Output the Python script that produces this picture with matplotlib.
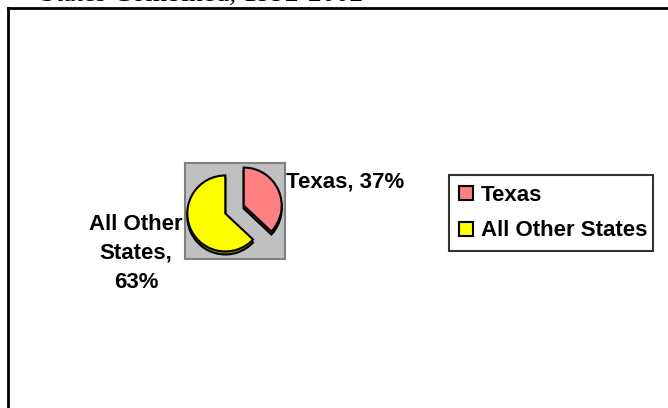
import matplotlib
matplotlib.use("Agg")
import matplotlib.pyplot as plt
from matplotlib.patches import Rectangle, Wedge
from matplotlib.lines import Line2D
import numpy as np

categories = ["Texas", "All Other States"]
values = [37, 63]
colors = ["#FF8080", "#FFFF00"]
shade_colors = ["#A05050", "#A0A000"]
title = "States Combined, 1992-2002"

W, H = 668, 408
fig = plt.figure(figsize=(W / 100, H / 100), dpi=100)
fig.patch.set_facecolor("white")

def fx(x):
    return x / W

def fy(y):
    return 1 - y / H

# outer frame (top and left edges visible)
fig.add_artist(Line2D([fx(8), fx(W + 5)], [fy(8), fy(8)], color="black", lw=2.0))
fig.add_artist(Line2D([fx(8.3), fx(8.3)], [fy(8), fy(H + 5)], color="black", lw=2.0))

# clipped title
fig.text(fx(40), fy(0.5), title, family="Liberation Serif", fontsize=20,
         va="baseline", ha="left", color="black")

# plot area (gray square)
bx0, bx1, by0, by1 = 185, 285, 163, 259
ax = fig.add_axes([fx(bx0), fy(by1), fx(bx1 - bx0), (by1 - by0) / H])
ax.set_facecolor("#C0C0C0")
for s in ax.spines.values():
    s.set_color("#808080")
    s.set_linewidth(1.5)
ax.set_xticks([])
ax.set_yticks([])
ax.set_xlim(bx0, bx1)
ax.set_ylim(-by1, -by0)

cx, cy = 234.5, -209.5
r = 38
explode = 10
depth = 3
start = 90
angles = []
a = start
for v in values:
    theta2 = a
    theta1 = a - v / sum(values) * 360
    angles.append((theta1, theta2))
    a = theta1

for (t1, t2), c, sc in zip(angles, colors, shade_colors):
    mid = np.deg2rad((t1 + t2) / 2)
    ox, oy = cx + explode * np.cos(mid), cy + explode * np.sin(mid)
    ax.add_patch(Wedge((ox, oy - depth), r, t1, t2, facecolor=sc,
                       edgecolor="black", lw=1.5))
    ax.add_patch(Wedge((ox, oy), r, t1, t2, facecolor=c,
                       edgecolor="black", lw=1.5))

# data labels
fig.text(fx(286), fy(182), f"{categories[0]}, {values[0]}%", family="Liberation Sans",
         fontweight="bold", fontsize=16, ha="left", va="center")
fig.text(fx(136), fy(253), f"All Other\nStates,\n{values[1]}%", family="Liberation Sans",
         fontweight="bold", fontsize=16, ha="center", va="center", linespacing=1.5)

# legend
handles = [Rectangle((0, 0), 1, 1, facecolor=c, edgecolor="black", lw=1.5) for c in colors]
leg = fig.legend(handles, categories, loc="upper left",
                 bbox_to_anchor=(fx(449), fy(247), fx(653 - 449), (247 - 175) / H),
                 mode="expand", frameon=True, fancybox=False,
                 prop={"family": "Liberation Sans", "weight": "bold", "size": 16},
                 handlelength=0.65, handleheight=0.6, handletextpad=0.35,
                 labelspacing=0.65, borderpad=0.45, borderaxespad=0)
leg.get_frame().set_edgecolor("black")
leg.get_frame().set_linewidth(1.5)

fig.savefig("out.png", dpi=100, facecolor="white")
